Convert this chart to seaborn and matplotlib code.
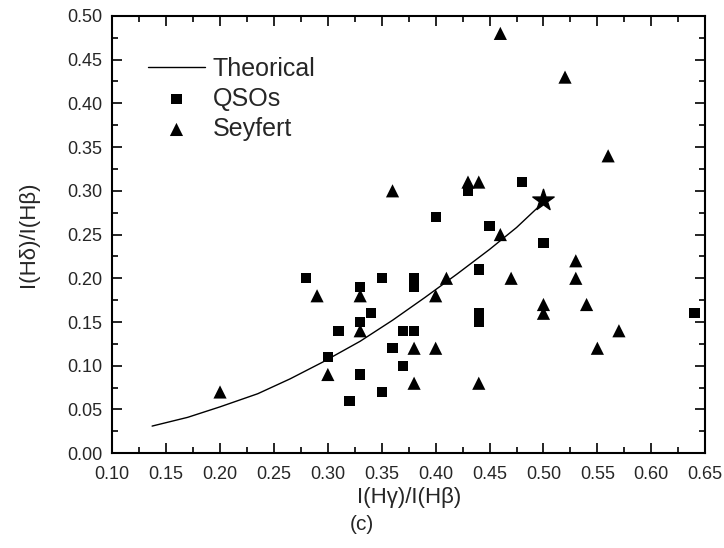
import matplotlib
matplotlib.use("Agg")
import matplotlib.pyplot as plt
import seaborn as sns
import pandas as pd
from matplotlib.ticker import MultipleLocator, FormatStrFormatter

# theoretical curve
theo_x = [0.137, 0.17, 0.20, 0.235, 0.265, 0.295, 0.33, 0.36, 0.39, 0.42, 0.45, 0.475, 0.50]
theo_y = [0.031, 0.041, 0.053, 0.068, 0.085, 0.104, 0.128, 0.152, 0.178, 0.205, 0.233, 0.258, 0.287]

# QSOs (squares)
qso_x = [0.28, 0.30, 0.31, 0.32, 0.33, 0.33, 0.33, 0.34, 0.35, 0.35, 0.36, 0.37, 0.37,
         0.38, 0.38, 0.38, 0.40, 0.43, 0.44, 0.44, 0.44, 0.45, 0.48, 0.50, 0.64]
qso_y = [0.20, 0.11, 0.14, 0.06, 0.19, 0.15, 0.09, 0.16, 0.20, 0.07, 0.12, 0.14, 0.10,
         0.20, 0.19, 0.14, 0.27, 0.30, 0.21, 0.16, 0.15, 0.26, 0.31, 0.24, 0.16]

# Seyfert (triangles)
sey_x = [0.20, 0.29, 0.30, 0.33, 0.33, 0.36, 0.38, 0.38, 0.40, 0.40, 0.41, 0.43, 0.44,
         0.44, 0.46, 0.46, 0.47, 0.50, 0.50, 0.52, 0.53, 0.53, 0.54, 0.55, 0.56, 0.57]
sey_y = [0.07, 0.18, 0.09, 0.18, 0.14, 0.30, 0.12, 0.08, 0.18, 0.12, 0.20, 0.31, 0.31,
         0.08, 0.48, 0.25, 0.20, 0.17, 0.16, 0.43, 0.22, 0.20, 0.17, 0.12, 0.34, 0.14]

star_x = [0.50]
star_y = [0.29]

sns.set_style("ticks")
plt.rcParams["font.family"] = ["Liberation Sans", "DejaVu Sans"]
plt.rcParams["xtick.direction"] = "in"
plt.rcParams["ytick.direction"] = "in"

fig = plt.figure(figsize=(7.24, 5.48), dpi=100)
ax = fig.add_axes([0.155, 0.173, 0.819, 0.798])

theo = pd.DataFrame({"x": theo_x, "y": theo_y})
qso = pd.DataFrame({"x": qso_x, "y": qso_y})
sey = pd.DataFrame({"x": sey_x, "y": sey_y})

sns.lineplot(data=theo, x="x", y="y", ax=ax, color="black", lw=1.0, sort=False,
             label="Theorical")
sns.scatterplot(data=qso, x="x", y="y", ax=ax, marker="s", s=55, color="black",
                edgecolor="none", label="QSOs")
sns.scatterplot(data=sey, x="x", y="y", ax=ax, marker="^", s=90, color="black",
                edgecolor="none", label="Seyfert")
ax.scatter(star_x, star_y, marker="*", s=260, color="black", zorder=5)

ax.set_xlim(0.10, 0.65)
ax.set_ylim(0.0, 0.50)
ax.xaxis.set_major_locator(MultipleLocator(0.05))
ax.xaxis.set_minor_locator(MultipleLocator(0.025))
ax.yaxis.set_major_locator(MultipleLocator(0.05))
ax.yaxis.set_minor_locator(MultipleLocator(0.025))
ax.xaxis.set_major_formatter(FormatStrFormatter("%.2f"))
ax.yaxis.set_major_formatter(FormatStrFormatter("%.2f"))
ax.tick_params(which="both", top=True, right=True, color="black", width=1.2, labelsize=13)
ax.tick_params(which="major", length=7)
ax.tick_params(which="minor", length=4)
ax.tick_params(axis="x", which="major", pad=9)
ax.tick_params(axis="y", which="major", pad=7)
for sp in ax.spines.values():
    sp.set_linewidth(1.5)
    sp.set_color("black")

ax.set_xlabel("I(Hγ)/I(Hβ)", fontsize=16, labelpad=3)
ax.set_ylabel("I(Hδ)/I(Hβ)", fontsize=16, labelpad=20)
fig.text(0.5, 0.042, "(c)", ha="center", va="center", fontsize=15)

leg = ax.legend(loc="upper left", bbox_to_anchor=(0.043, 0.93), frameon=False,
                fontsize=18, handlelength=2.3, handletextpad=0.3, labelspacing=0.25,
                borderaxespad=0)

fig.savefig("out.png", dpi=100)
